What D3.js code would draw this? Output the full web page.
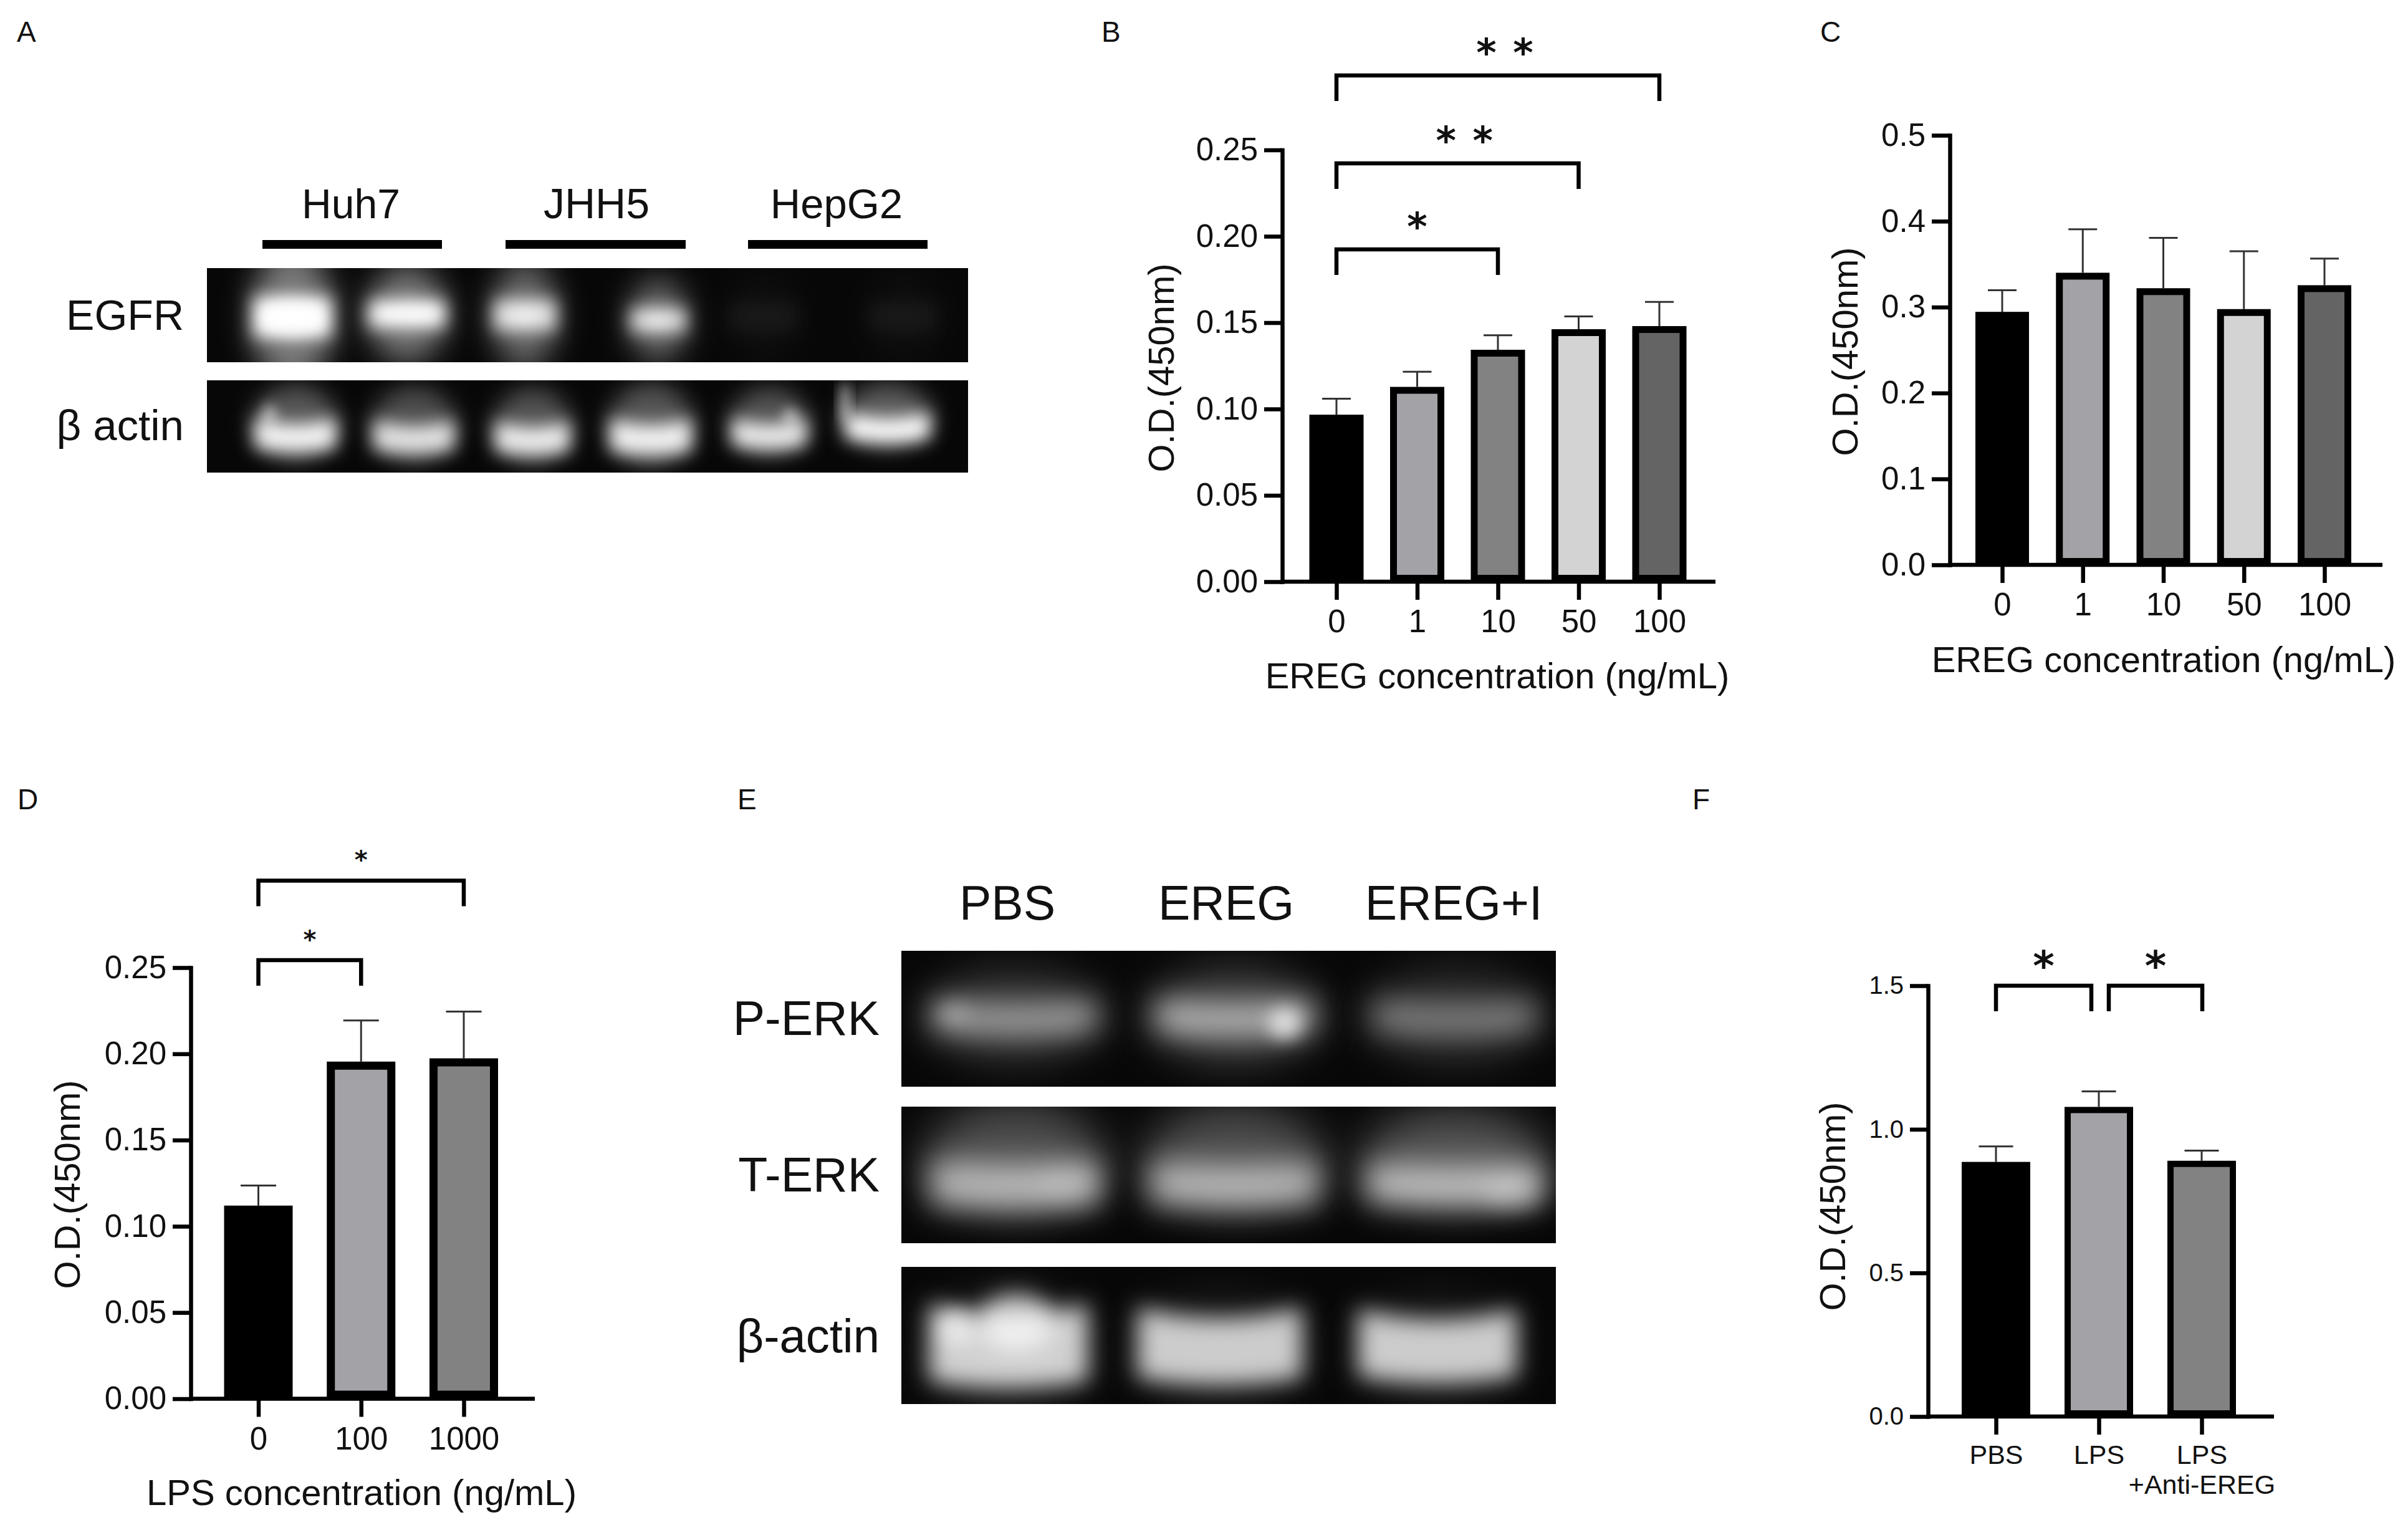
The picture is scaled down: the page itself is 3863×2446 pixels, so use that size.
<!DOCTYPE html>
<html>
<head>
<meta charset="utf-8">
<script src="https://cdn.jsdelivr.net/npm/d3@7"></script>
<style>
  body { margin: 0; background: #fff; }
  text { font-family: "Liberation Sans", Arial, sans-serif; fill: #111; }
</style>
</head>
<body>
<div id="figure"></div>
<script>
//data
var bCategories = ["0", "1", "10", "50", "100"];
var bValues = [0.0967, 0.1128, 0.1343, 0.1462, 0.148];
var bErrors = [0.0093, 0.0088, 0.0084, 0.0074, 0.014];
var bTicks = [0, 0.05, 0.1, 0.15, 0.2, 0.25];
var bSigPairs = [[0, 2], [0, 3], [0, 4]];
var bSigLevels = [0.1924, 0.2422, 0.2931];
var bSigStars = [1, 2, 2];

var cCategories = ["0", "1", "10", "50", "100"];
var cValues = [0.2945, 0.34, 0.322, 0.2977, 0.3255];
var cErrors = [0.0252, 0.0506, 0.0587, 0.0673, 0.031];
var cTicks = [0, 0.1, 0.2, 0.3, 0.4, 0.5];

var dCategories = ["0", "100", "1000"];
var dValues = [0.112, 0.1955, 0.1974];
var dErrors = [0.0116, 0.0239, 0.0271];
var dTicks = [0, 0.05, 0.1, 0.15, 0.2, 0.25];
var dSigPairs = [[0, 1], [0, 2]];
var dSigLevels = [0.2543, 0.3004];
var dSigStars = [1, 1];

var fCategories = ["PBS", "LPS", "LPS\n+Anti-EREG"];
var fValues = [0.8865, 1.078, 0.8905];
var fErrors = [0.054, 0.054, 0.0352];
var fTicks = [0, 0.5, 1, 1.5];
var fSigPairs = [[0, 1], [1, 2]];
var fSigLevels = [1.5, 1.5];
var fSigStars = [1, 1];

var barFills = ["#000000", "#a3a2a7", "#828282", "#d3d3d3", "#646464"];

// relative band brightness on the blots, one per lane
var egfrLevels = [1, 0.98, 0.85, 0.85, 0.05, 0.05];
var actinLevelsA = [0.95, 0.85, 0.9, 0.92, 0.9, 1];
var perkLevels = [0.56, 0.66, 0.42];
var terkLevels = [0.62, 0.62, 0.68];
var actinLevelsE = [0.8, 0.78, 0.78];
// end of data

var svg = d3.select("#figure").append("svg")
    .attr("width", 3863)
    .attr("height", 2446)
    .style("display", "block");

svg.append("rect").attr("width", 3863).attr("height", 2446).attr("fill", "#fff");

var defs = svg.append("defs");
[6, 10, 14, 18, 24, 34].forEach(function (s) {
    defs.append("filter")
        .attr("id", "blur" + s)
        .attr("x", "-100%").attr("y", "-200%")
        .attr("width", "300%").attr("height", "500%")
        .attr("color-interpolation-filters", "sRGB")
        .append("feGaussianBlur").attr("stdDeviation", s);
});

//panel letters
var letters = [["A", 27, 67], ["B", 1767, 67], ["C", 2920, 67], ["D", 28, 1298], ["E", 1183, 1298], ["F", 2715, 1298]];
svg.selectAll("text.letter").data(letters).enter().append("text")
    .attr("class", "letter")
    .attr("x", function (d) { return d[1]; })
    .attr("y", function (d) { return d[2]; })
    .style("font-size", "46px")
    .text(function (d) { return d[0]; });

//bar panels
function barPanel(p) {
    var y = d3.scaleLinear().domain([0, p.ticks[p.ticks.length - 1]]).range([p.y0, p.yTop]);
    var x = d3.scalePoint().domain(p.categories).range([p.first, p.last]);
    var g = svg.append("g");

    // error bars sit behind the bars
    var err = g.append("g").selectAll("g").data(p.values).enter().append("g")
        .attr("fill", "none");
    err.append("line")
        .attr("x1", function (d, i) { return x(p.categories[i]); })
        .attr("x2", function (d, i) { return x(p.categories[i]); })
        .attr("y1", function (d) { return y(d); })
        .attr("y2", function (d, i) { return y(d + p.errors[i]); });
    err.append("line")
        .attr("x1", function (d, i) { return x(p.categories[i]) - p.capWidth / 2; })
        .attr("x2", function (d, i) { return x(p.categories[i]) + p.capWidth / 2; })
        .attr("y1", function (d, i) { return y(d + p.errors[i]); })
        .attr("y2", function (d, i) { return y(d + p.errors[i]); });

    g.append("g").selectAll("rect").data(p.values).enter().append("rect")
        .attr("x", function (d, i) { return x(p.categories[i]) - p.barWidth / 2 + p.border / 2; })
        .attr("width", p.barWidth - p.border)
        .attr("y", function (d) { return y(d) + p.border / 2; })
        .attr("height", function (d) { return y(0) - y(d) - p.border; })
        .attr("fill", function (d, i) { return barFills[i]; })
        .attr("stroke", "#000")
        .attr("stroke-width", p.border);

    //y axis
    var yAxis = g.append("g")
        .attr("transform", "translate(" + p.axisX + ",0)")
        .call(d3.axisLeft(y).tickValues(p.ticks).tickFormat(d3.format(p.format)).tickSize(29).tickSizeOuter(0).tickPadding(10));
    yAxis.selectAll("text").style("font-size", p.tickFont + "px").attr("fill", null);

    //x axis
    var xAxis = g.append("g")
        .attr("transform", "translate(0," + p.y0 + ")")
        .call(d3.axisBottom(x).tickSize(29).tickSizeOuter(0).tickPadding(16));
    xAxis.select(".domain").remove();
    xAxis.selectAll("text")
        .style("font-size", p.xFont + "px")
        .attr("fill", null)
        .each(function (d) {
            var parts = d.split("\n");
            var t = d3.select(this).text(parts[0]);
            if (parts[1]) {
                t.append("tspan").attr("x", 0).attr("dy", "1.12em").text(parts[1]);
            }
        });
    g.append("line")
        .attr("x1", p.axisX).attr("x2", p.axisEnd)
        .attr("y1", p.y0).attr("y2", p.y0);

    g.selectAll(".domain, .tick line, g > line").attr("stroke", "#000").attr("stroke-width", 6.5);
    err.selectAll("line").attr("stroke", "#333").attr("stroke-width", 3);
    yAxis.select(".domain").attr("stroke-linecap", "square");

    //axis titles
    g.append("text")
        .attr("transform", "translate(" + p.yTitleX + "," + p.yTitleY + ") rotate(-90)")
        .attr("text-anchor", "middle")
        .style("font-size", "58px")
        .text("O.D.(450nm)");
    if (p.xTitle) {
        g.append("text")
            .attr("x", p.xTitleX).attr("y", p.xTitleY)
            .attr("text-anchor", "middle")
            .style("font-size", "58px")
            .text(p.xTitle);
    }

    //significance brackets
    (p.sigPairs || []).forEach(function (pair, i) {
        var x1 = x(p.categories[pair[0]]) + (p.sigInset ? p.sigInset[i][0] : 0);
        var x2 = x(p.categories[pair[1]]) + (p.sigInset ? p.sigInset[i][1] : 0);
        var top = y(p.sigLevels[i]);
        g.append("path")
            .attr("d", d3.line()([[x1, top + 41], [x1, top], [x2, top], [x2, top + 41]]))
            .attr("fill", "none").attr("stroke", "#000").attr("stroke-width", 6.5);
        var mid = (x1 + x2) / 2 + (p.sigStars[i] > 1 ? 11 : 0);
        d3.range(p.sigStars[i]).forEach(function (k) {
            g.append("text")
                .attr("x", mid + (k - (p.sigStars[i] - 1) / 2) * 59)
                .attr("y", top - p.starLift + p.starFont * 0.47)
                .attr("text-anchor", "middle")
                .style("font-family", "'DejaVu Sans'")
                .style("font-weight", "bold")
                .style("font-size", p.starFont + "px")
                .text("*");
        });
    });
}

barPanel({
    categories: bCategories, values: bValues, errors: bErrors, ticks: bTicks, format: ".2f",
    sigPairs: bSigPairs, sigLevels: bSigLevels, sigStars: bSigStars, starFont: 62, starLift: 44,
    y0: 933, yTop: 240.5, first: 2144, last: 2662, axisX: 2057, axisEnd: 2752,
    barWidth: 87, border: 11, capWidth: 46, tickFont: 51, xFont: 51,
    yTitleX: 1883, yTitleY: 590, xTitle: "EREG concentration (ng/mL)", xTitleX: 2402, xTitleY: 1104
});

barPanel({
    categories: cCategories, values: cValues, errors: cErrors, ticks: cTicks, format: ".1f",
    y0: 906, yTop: 217, first: 3212, last: 3729, axisX: 3128, axisEnd: 3822,
    barWidth: 86, border: 11, capWidth: 46, tickFont: 51, xFont: 51,
    yTitleX: 2980, yTitleY: 564, xTitle: "EREG concentration (ng/mL)", xTitleX: 3471, xTitleY: 1078
});

barPanel({
    categories: dCategories, values: dValues, errors: dErrors, ticks: dTicks, format: ".2f",
    sigPairs: dSigPairs, sigLevels: dSigLevels, sigStars: dSigStars, starFont: 40, starLift: 38,
    y0: 2243.5, yTop: 1552, first: 414.5, last: 744, axisX: 306, axisEnd: 858,
    barWidth: 110, border: 13, capWidth: 57, tickFont: 51, xFont: 51,
    yTitleX: 128, yTitleY: 1900, xTitle: "LPS concentration (ng/mL)", xTitleX: 580, xTitleY: 2414
});

barPanel({
    categories: fCategories, values: fValues, errors: fErrors, ticks: fTicks, format: ".1f",
    sigPairs: fSigPairs, sigLevels: fSigLevels, sigStars: fSigStars, starFont: 66, starLift: 40,
    sigInset: [[0, -12], [16, 1]],
    y0: 2272, yTop: 1581, first: 3202, last: 3532, axisX: 3093, axisEnd: 3648,
    barWidth: 110, border: 10, capWidth: 55, tickFont: 40, xFont: 43,
    yTitleX: 2960, yTitleY: 1935
});

//blots
function grey(level) {
    var v = Math.round(255 * level);
    return d3.rgb(v, v, v).toString();
}

function smile(cx, cy, w, h, sag) {
    // crescent band: ends lifted, middle dropped by sag
    var path = d3.path();
    path.moveTo(cx - w / 2, cy - h / 2 - sag);
    path.quadraticCurveTo(cx, cy - h / 2 + sag, cx + w / 2, cy - h / 2 - sag);
    path.lineTo(cx + w / 2, cy + h / 2 - sag * 0.2);
    path.quadraticCurveTo(cx, cy + h / 2 + sag, cx - w / 2, cy + h / 2 - sag * 0.2);
    path.closePath();
    return path.toString();
}

var clipCount = 0;
function blot(b) {
    var id = "clip" + (clipCount++);
    defs.append("clipPath").attr("id", id).append("rect")
        .attr("x", b.x).attr("y", b.y).attr("width", b.w).attr("height", b.h);
    var g = svg.append("g")
        .attr("clip-path", "url(#" + id + ")")
        .style("isolation", "isolate");
    g.append("rect")
        .attr("x", b.x).attr("y", b.y).attr("width", b.w).attr("height", b.h)
        .attr("fill", "#070707");
    var lanes = d3.scalePoint().domain(d3.range(b.levels.length)).range([b.laneFirst, b.laneLast]);
    var cy = b.y + b.h * b.cy;

    b.levels.forEach(function (level, i) {
        var cx = lanes(i) + (b.offsets ? b.offsets[i] : 0);
        var w = b.bandW[i % b.bandW.length];
        var h = b.bandH[i % b.bandH.length];
        var lift = b.lifts ? b.lifts[i] : 0;
        // haze above and around the band
        g.append("ellipse")
            .attr("cx", cx).attr("cy", cy + lift - b.hazeUp)
            .attr("rx", w * 0.52).attr("ry", h * b.hazeScale)
            .attr("fill", grey(level * b.hazeLevel))
            .style("mix-blend-mode", "screen")
            .attr("filter", "url(#blur" + b.hazeBlur + ")");
        g.append("path")
            .attr("d", smile(cx, cy + lift, w, h, b.sag))
            .attr("fill", grey(level))
            .style("mix-blend-mode", "screen")
            .attr("filter", "url(#blur" + b.blur + ")");
    });
    (b.spots || []).forEach(function (s) {
        g.append("ellipse")
            .attr("cx", s[0]).attr("cy", s[1]).attr("rx", s[2]).attr("ry", s[3])
            .attr("fill", grey(s[4]))
            .style("mix-blend-mode", "screen")
            .attr("filter", "url(#blur" + s[5] + ")");
    });
}

// panel A
blot({ x: 332, y: 430, w: 1221, h: 151, levels: egfrLevels, laneFirst: 469, laneLast: 1434,
    offsets: [0, -9, -13, 8, -16, 15], lifts: [0, -5, -3, 5, 0, 0], cy: 0.52,
    bandW: [125, 122, 100, 88, 110, 110], bandH: [66, 44, 50, 38, 44, 44], sag: 0, blur: 14,
    hazeUp: 0, hazeScale: 1.8, hazeLevel: 0.45, hazeBlur: 24,
    spots: [[469, 510, 50, 28, 0.6, 10], [660, 503, 42, 10, 0.5, 10], [842, 507, 14, 16, 0.3, 10], [1055, 515, 12, 8, 0.4, 10]] });

blot({ x: 332, y: 610, w: 1221, h: 148, levels: actinLevelsA, laneFirst: 474, laneLast: 1424, cy: 0.61,
    bandW: [130, 130, 120, 130, 120, 135], bandH: [40, 40, 40, 44, 36, 34], sag: 11, blur: 14,
    hazeUp: 22, hazeScale: 1.5, hazeLevel: 0.34, hazeBlur: 18, lifts: [0, 3, 5, 3, -2, -12],
    spots: [[1355, 645, 6, 34, 0.8, 10], [1268, 668, 10, 14, 0.6, 10], [432, 665, 10, 18, 0.55, 10]] });

// panel E
blot({ x: 1446, y: 1525, w: 1050, h: 218, levels: perkLevels, laneFirst: 1628, laneLast: 2333, cy: 0.5,
    bandW: [265, 255, 265], bandH: [42, 44, 44], sag: 10, blur: 24,
    hazeUp: 5, hazeScale: 1.7, hazeLevel: 0.36, hazeBlur: 34,
    spots: [[2061, 1642, 26, 24, 0.7, 14], [1528, 1625, 28, 16, 0.22, 14]] });

blot({ x: 1446, y: 1775, w: 1050, h: 219, levels: terkLevels, laneFirst: 1628, laneLast: 2333, cy: 0.58,
    bandW: [275, 275, 285], bandH: [68, 64, 58], sag: 8, blur: 24,
    hazeUp: 45, hazeScale: 1.3, hazeLevel: 0.46, hazeBlur: 34,
    spots: [[1716, 1900, 50, 26, 0.14, 18], [2425, 1915, 45, 24, 0.28, 18]] });

blot({ x: 1446, y: 2032, w: 1050, h: 220, levels: actinLevelsE, laneFirst: 1628, laneLast: 2306, offsets: [-10, -10, 0], cy: 0.6,
    bandW: [255, 265, 255], bandH: [110, 100, 95], sag: 18, blur: 18,
    hazeUp: 0, hazeScale: 1, hazeLevel: 0.08, hazeBlur: 34,
    spots: [[1630, 2120, 60, 45, 0.72, 18], [1535, 2130, 26, 30, 0.5, 14]] });

//blot bars and labels
var blotBars = [[421, 709], [811, 1100], [1200, 1488]];
svg.selectAll("rect.laneBar").data(blotBars).enter().append("rect")
    .attr("class", "laneBar")
    .attr("x", function (d) { return d[0]; })
    .attr("width", function (d) { return d[1] - d[0]; })
    .attr("y", 385).attr("height", 14)
    .attr("fill", "#000");

var blotLabels = [
    ["Huh7", 563, 350, 66, "middle"], ["JHH5", 957, 350, 68, "middle"], ["HepG2", 1342, 350, 67, "middle"],
    ["EGFR", 295, 529, 68, "end"], ["\u03b2 actin", 295, 706, 69, "end"],
    ["PBS", 1616, 1475, 77, "middle"], ["EREG", 1967, 1475, 77, "middle"], ["EREG+I", 2332, 1475, 77, "middle"],
    ["P-ERK", 1411, 1660, 77, "end"], ["T-ERK", 1411, 1911, 77, "end"], ["\u03b2-actin", 1411, 2169, 76, "end"]
];
svg.selectAll("text.blotLabel").data(blotLabels).enter().append("text")
    .attr("class", "blotLabel")
    .attr("x", function (d) { return d[1]; })
    .attr("y", function (d) { return d[2]; })
    .attr("text-anchor", function (d) { return d[4]; })
    .style("font-size", function (d) { return d[3] + "px"; })
    .text(function (d) { return d[0]; });
</script>
</body>
</html>
